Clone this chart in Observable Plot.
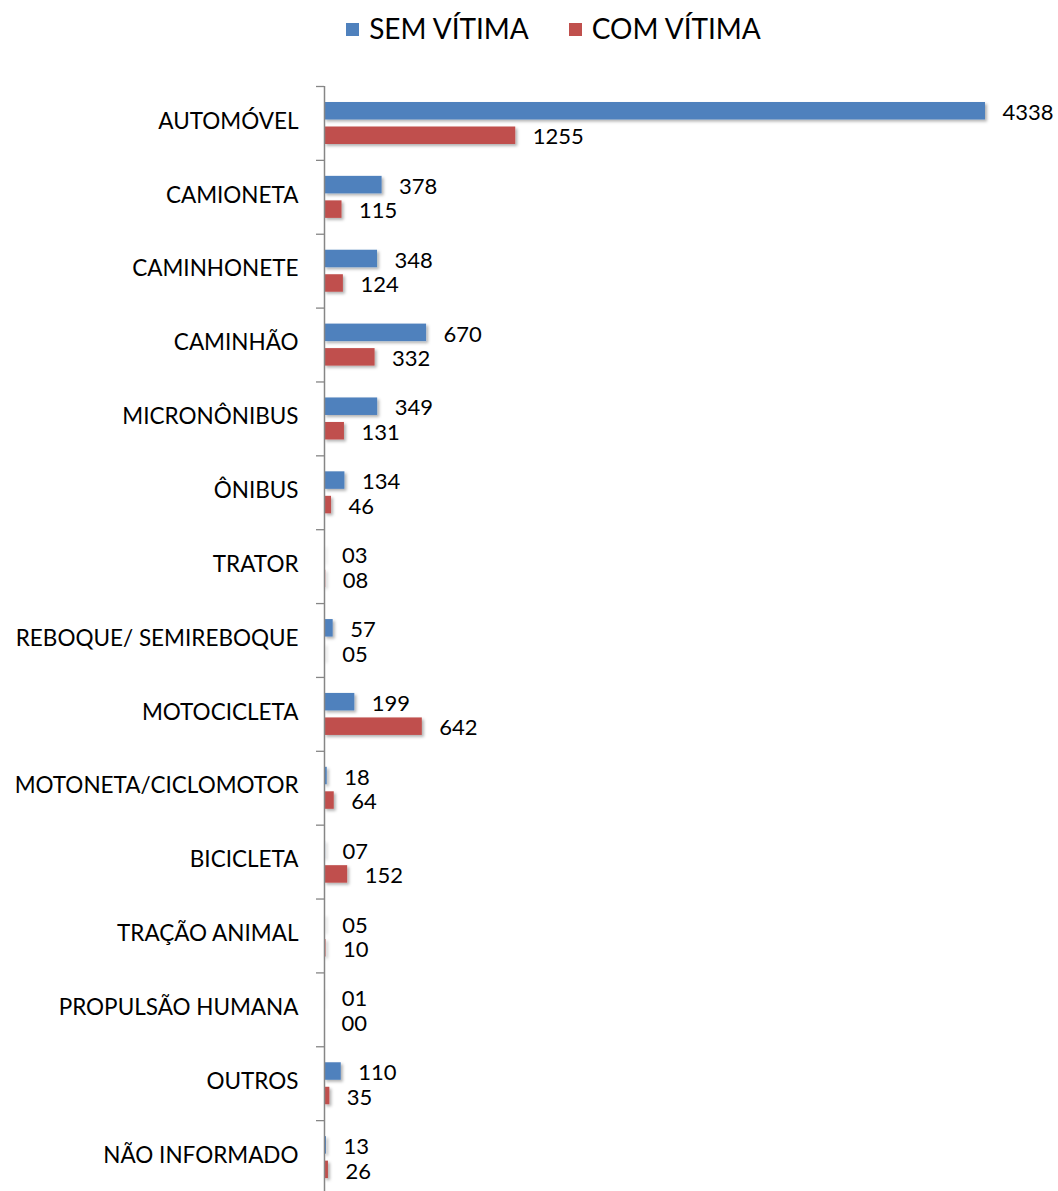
<!DOCTYPE html>
<html><head><meta charset="utf-8">
<script src="https://cdn.jsdelivr.net/npm/d3@7"></script>
<script src="https://cdn.jsdelivr.net/npm/@observablehq/plot@0.6"></script>
<style>
body{margin:0;background:#fff;font-family:Lato,"Open Sans",sans-serif;overflow:hidden;}
#wrap{position:relative;width:1058px;height:1191px;overflow:hidden;}
#legend{position:absolute;left:0;top:0;width:1058px;height:56px;display:flex;justify-content:center;align-items:center;gap:40px;font-size:28px;color:#000;padding-left:49px;box-sizing:border-box;z-index:2;}
#legend span.sw{display:inline-block;width:13px;height:13px;margin-right:10px;vertical-align:middle;position:relative;top:-2px;}
#chart{position:absolute;left:0;top:0;}
#chart svg{display:block;}
</style></head>
<body>
<div id="wrap">
<div id="chart"></div>
<div id="legend"></div>
</div>
<script>
const categories = ["AUTOMÓVEL","CAMIONETA","CAMINHONETE","CAMINHÃO","MICRONÔNIBUS","ÔNIBUS","TRATOR","REBOQUE/ SEMIREBOQUE","MOTOCICLETA","MOTONETA/CICLOMOTOR","BICICLETA","TRAÇÃO ANIMAL","PROPULSÃO HUMANA","OUTROS","NÃO INFORMADO"];
const series = ["SEM VÍTIMA","COM VÍTIMA"];
const semVitima = [4338,378,348,670,349,134,3,57,199,18,7,5,1,110,13];
const comVitima = [1255,115,124,332,131,46,8,5,642,64,152,10,0,35,26];
const colors = ["#4F81BD","#C0504D"];

const fmt = d3.format("02d");
const semData = categories.map((c,i)=>({cat:c, value:semVitima[i], series:series[0]}));
const comData = categories.map((c,i)=>({cat:c, value:comVitima[i], series:series[1]}));

// legend
const leg = document.getElementById("legend");
series.forEach((s,i)=>{
  const d = document.createElement("div");
  d.innerHTML = `<span class="sw" style="background:${colors[i]}"></span>${s}`;
  leg.appendChild(d);
});

const H = 1194, mt = 86;
const band = (H - mt) / categories.length;

const plot = Plot.plot({
  width: 1058,
  height: H,
  marginTop: mt,
  marginBottom: 0,
  marginLeft: 324,
  marginRight: 73,
  style: {fontFamily: "Lato, 'Open Sans', sans-serif", fontSize: "22px", color: "#000", background: "transparent"},
  x: {domain: [0, 4338], axis: null},
  y: {domain: categories, padding: 0, round: false, label: null},
  marks: [
    Plot.barX(semData, {x: "value", y: "cat", fill: colors[0], insetTop: 16, insetBottom: band - 33.5}),
    Plot.barX(comData, {x: "value", y: "cat", fill: colors[1], insetTop: 40.5, insetBottom: band - 58}),
    Plot.text(semData, {x: "value", y: "cat", text: d => fmt(d.value), textAnchor: "start", dx: 17, dy: -10.5, fontSize: 22, fill: "#000"}),
    Plot.text(comData, {x: "value", y: "cat", text: d => fmt(d.value), textAnchor: "start", dx: 17, dy: 14, fontSize: 22, fill: "#000"}),
    Plot.axisY({tickSize: 0, tickPadding: 26, fontSize: 22.5, dy: -2, fill: "#000", label: null}),
    Plot.axisY({tickSize: 8, text: null, dy: -band/2, stroke: "#868686", strokeWidth: 1.3, label: null}),
    Plot.ruleX([0], {stroke: "#868686", strokeWidth: 1.5})
  ]
});
document.getElementById("chart").appendChild(plot);

// subtle drop shadows like the reference
const svg = d3.select(plot);
const defs = svg.insert("defs", ":first-child");
const f = defs.append("filter").attr("id","sh").attr("x","-5%").attr("y","-30%").attr("width","115%").attr("height","180%");
f.append("feDropShadow").attr("dx",2).attr("dy",2).attr("stdDeviation",1.5).attr("flood-color","#000").attr("flood-opacity",0.3);
svg.selectAll("g[aria-label='bar']").attr("filter","url(#sh)");
</script>
</body></html>
